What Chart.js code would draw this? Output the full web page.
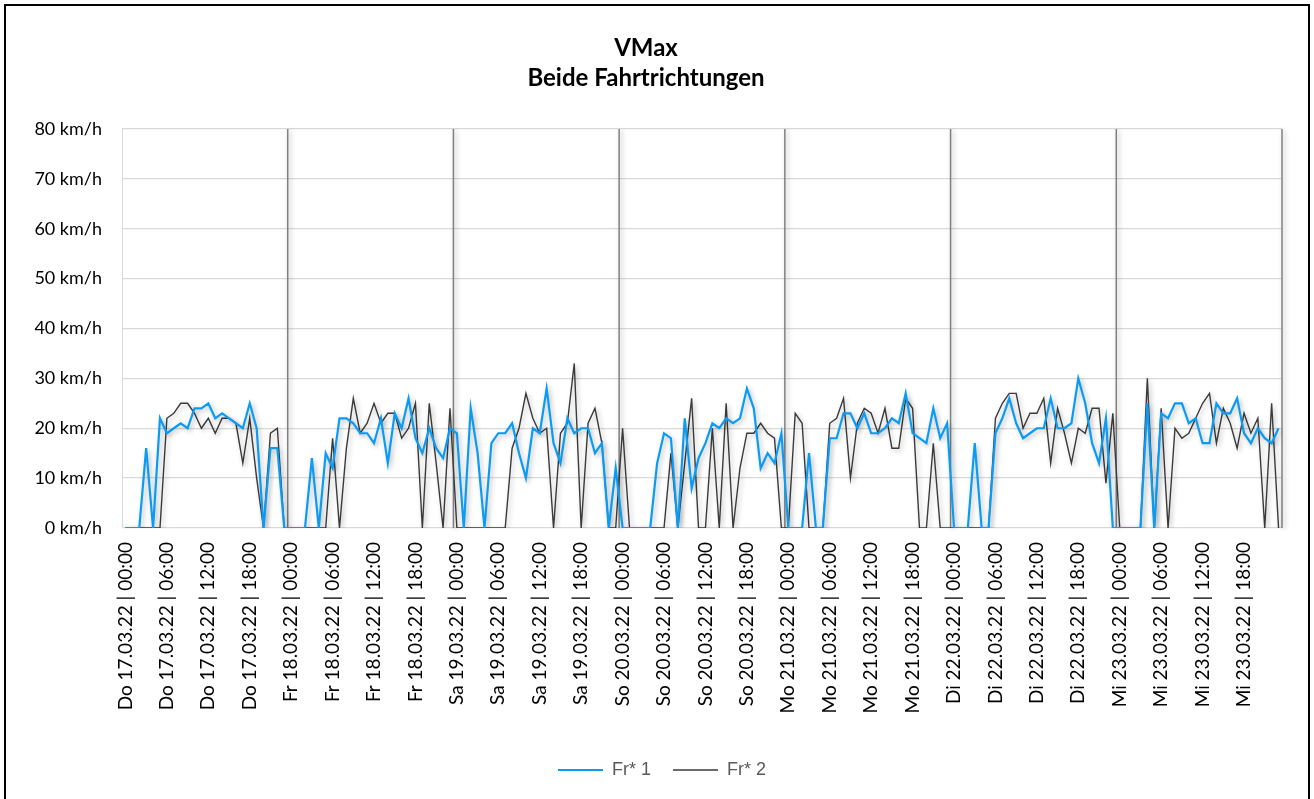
<!DOCTYPE html>
<html><head><meta charset="utf-8">
<script src="https://cdn.jsdelivr.net/npm/chart.js@4"></script>
<style>html,body{margin:0;padding:0;background:#fff}#wrap{width:1314px;height:799px;position:relative}</style>
</head><body><div id="wrap"><canvas id="c"></canvas></div>
<script>
const days = ['Do 17.03.22','Fr 18.03.22','Sa 19.03.22','So 20.03.22','Mo 21.03.22','Di 22.03.22','Mi 23.03.22'];
const hours = ['00:00','01:00','02:00','03:00','04:00','05:00','06:00','07:00','08:00','09:00','10:00','11:00',
               '12:00','13:00','14:00','15:00','16:00','17:00','18:00','19:00','20:00','21:00','22:00','23:00'];
const labelEvery = 6;
const yTicks = [0,10,20,30,40,50,60,70,80];

const fr1 = [
  0,0,0,16,0,22,19,20,21,20,24,24,25,22,23,22,21,20,25,20,0,16,16,0,
  0,0,0,14,0,15,12,22,22,21,19,19,17,22,13,23,20,26,18,15,20,16,14,20,
  19,0,24,15,0,17,19,19,21,15,10,20,19,28,17,13,22,19,20,20,15,17,0,12,
  0,0,0,0,0,13,19,18,0,22,8,14,17,21,20,22,21,22,28,24,12,15,13,19,
  0,0,0,15,0,0,18,18,23,23,20,23,19,19,20,22,21,27,19,18,17,24,18,21,
  0,0,0,17,0,0,19,22,26,21,18,19,20,20,26,20,20,21,30,25,17,13,22,0,
  0,0,0,0,25,0,23,22,25,25,21,22,17,17,25,23,23,26,19,17,20,18,17,20
];
const fr2 = [
  0,0,0,0,0,0,22,23,25,25,23,20,22,19,22,22,21,13,22,10,0,19,20,0,
  0,0,0,0,0,0,18,0,16,26,19,21,25,21,23,23,18,20,25,0,25,13,0,24,
  0,0,0,0,0,0,0,0,16,20,27,22,19,20,0,19,21,33,0,21,24,17,0,0,
  20,0,0,0,0,0,0,15,0,13,26,0,0,20,0,25,0,12,19,19,21,19,18,0,
  0,23,21,0,0,0,21,22,26,10,21,24,23,19,24,16,16,26,24,0,0,17,0,0,
  0,0,0,0,0,0,22,25,27,27,20,23,23,26,13,24,19,13,20,19,24,24,9,23,
  0,0,0,0,30,0,24,0,20,18,19,22,25,27,17,24,21,16,23,19,22,0,25,0
];

const categories = days.flatMap(d => hours.map(h => d + ' | ' + h));

const shadowPlugin = {
  id: 'shadow',
  beforeDatasetDraw(chart) {
    const ctx = chart.ctx; ctx.save();
    ctx.shadowColor = 'rgba(0,0,0,0.28)'; ctx.shadowBlur = 5; ctx.shadowOffsetX = 2; ctx.shadowOffsetY = 2;
  },
  afterDatasetDraw(chart) { chart.ctx.restore(); }
};
const separators = {
  id: 'separators',
  afterLayout(chart) {
    const lg = chart.legend;
    if (lg) { lg.left += 21; lg.right += 21; }
    const tb = chart.titleBlock;
    if (tb) { tb.left += 5; tb.right += 5; }
  },
  beforeDatasetsDraw(chart) {
    const {ctx, chartArea: a, scales: {x}} = chart;
    ctx.save();
    ctx.strokeStyle = '#d9d9d9'; ctx.lineWidth = 1;
    const xl = Math.round(x.getPixelForValue(-0.5)) + 0.5;
    ctx.beginPath(); ctx.moveTo(xl, a.top); ctx.lineTo(xl, a.bottom); ctx.stroke();
    ctx.shadowColor = 'rgba(0,0,0,0.3)'; ctx.shadowBlur = 5; ctx.shadowOffsetX = 2; ctx.shadowOffsetY = 1;
    ctx.strokeStyle = '#808080'; ctx.lineWidth = 1.5;
    for (let k = 1; k <= days.length; k++) {
      const px = x.getPixelForValue(k * hours.length - 0.5);
      ctx.beginPath(); ctx.moveTo(px, a.top); ctx.lineTo(px, a.bottom); ctx.stroke();
    }
    ctx.restore();
  },
  afterDraw(chart) {
    const ctx = chart.ctx;
    ctx.save(); ctx.strokeStyle = '#000'; ctx.lineWidth = 2;
    ctx.strokeRect(5, 5, 1304, 800); ctx.restore();
  }
};

new Chart(document.getElementById('c'), {
  type: 'line',
  data: {
    labels: categories,
    datasets: [
      {label: 'Fr* 1', data: fr1, borderColor: '#0a9cf5', backgroundColor: '#0a9cf5', borderWidth: 2.2, pointRadius: 0, tension: 0},
      {label: 'Fr* 2', data: fr2, borderColor: '#3a3a3a', backgroundColor: '#3a3a3a', borderWidth: 1.4, pointRadius: 0, tension: 0}
    ]
  },
  options: {
    responsive: true, maintainAspectRatio: false, animation: false,
    layout: {padding: {left: 0, right: 32, top: 0, bottom: 10}},
    plugins: {
      tooltip: {enabled: false},
      title: {display: true, text: ['VMax', 'Beide Fahrtrichtungen'], color: '#000',
        font: {family: 'Lato', size: 24, weight: 'bold', lineHeight: 1.25}, padding: {top: 33, bottom: 36}},
      legend: {position: 'bottom', labels: {usePointStyle: true, pointStyle: 'line', pointStyleWidth: 45,
        color: '#595959', font: {family: 'Liberation Sans', size: 18}, padding: 22}}
    },
    scales: {
      x: {
        offset: true,
        grid: {display: false},
        border: {display: false},
        ticks: {autoSkip: false, maxRotation: 90, minRotation: 90, padding: 6, color: '#000',
          font: {family: 'Lato', size: 19},
          callback: (v, i) => (i % labelEvery === 0 ? categories[i] : '')},
        afterFit: s => { s.height = 211; }
      },
      y: {
        min: yTicks[0], max: yTicks[yTicks.length - 1],
        afterBuildTicks: s => { s.ticks = yTicks.map(v => ({value: v})); },
        grid: {color: '#d9d9d9', lineWidth: 1.3, drawTicks: false},
        border: {display: false},
        ticks: {padding: 20, color: '#000', font: {family: 'Lato', size: 18}, callback: v => v + ' km/h'},
        afterFit: s => { s.width = 122; }
      }
    }
  },
  plugins: [separators, shadowPlugin]
});
</script></body></html>
